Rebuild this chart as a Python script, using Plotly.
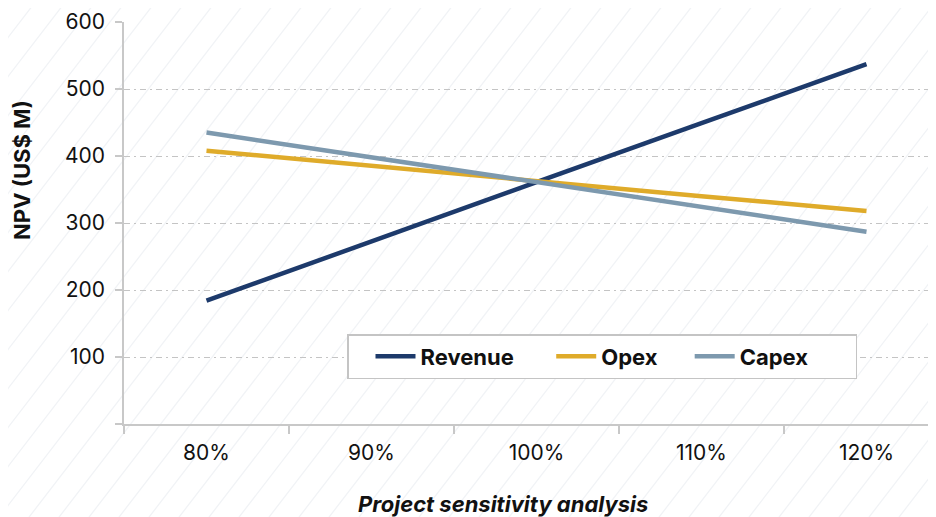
import plotly.graph_objects as go

categories = ["80%", "90%", "100%", "110%", "120%"]
revenue = [184, 273, 361, 449, 537]
opex = [408, 385, 362, 340, 318]
capex = [435, 398, 361, 324, 287]
y_ticks = [0, 100, 200, 300, 400, 500, 600]
y_tick_labels = ["", "100", "200", "300", "400", "500", "600"]

# page body margin offsets the figure by 8px; compensate
OFF = 8
W, H = 936, 517
ML, MR, MT, MB = 124 - OFF, 0, 22 - OFF, 93 + OFF
PW, PH = W - ML - MR, H - MT - MB
FONT = "Inter"

def px_to_paper(px, py):
    # px, py in screenshot pixels
    fx, fy = px - OFF, py - OFF
    return (fx - ML) / PW, (H - MB - fy) / PH

fig = go.Figure()
series = [("Revenue", revenue, "#1d3a6b"), ("Opex", opex, "#dfab2a"), ("Capex", capex, "#7d99ae")]
pads = ["\u00a0" * 2, "\u00a0" * 1, "\u00a0" * 8]
for (name, vals, col), pad in zip(series, pads):
    fig.add_trace(go.Scatter(x=categories, y=vals, mode="lines", name=name + pad,
                             line=dict(color=col, width=4.5)))

# decorative background hatch
shapes = []
slope = 1.3
c = -int(H / slope) - 30
while c < W + 30:
    x0, y0 = px_to_paper(c, H + OFF)
    x1, y1 = px_to_paper(c + (H + OFF) / slope, 0)
    shapes.append(dict(type="line", xref="paper", yref="paper", x0=x0, y0=y0, x1=x1, y1=y1,
                       line=dict(color="#f1f3f6", width=1.3), layer="below"))
    c += 30

lx, ly = px_to_paper(347, 334)
fig.update_layout(
    width=W, height=H,
    margin=dict(l=ML, r=MR, t=MT, b=MB),
    paper_bgcolor="white", plot_bgcolor="rgba(0,0,0,0)",
    font=dict(family=FONT, color="#111111"),
    shapes=shapes,
    showlegend=True,
    legend=dict(orientation="h", x=lx, y=ly,
                xanchor="left", yanchor="top",
                bgcolor="white", bordercolor="#c4c4c4", borderwidth=1.5,
                font=dict(family=FONT, size=22, color="#111111", weight="bold"),
                itemwidth=40, indentation=22),
    xaxis=dict(type="category", range=[-0.5, -0.5 + PW / 165.0],
               showline=True, linecolor="#c8c8c8", linewidth=1.5,
               ticks="outside", tickson="boundaries", ticklen=8, tickcolor="#c8c8c8", tickwidth=1.5,
               showgrid=False, tickfont=dict(family=FONT, size=21, color="#111111"), ticklabelstandoff=9),
    yaxis=dict(range=[0, 600], tickvals=y_ticks, ticktext=y_tick_labels,
               showline=True, linecolor="#c8c8c8", linewidth=1.5,
               ticks="outside", ticklen=7, tickcolor="#c8c8c8", tickwidth=1.5,
               showgrid=True, gridcolor="#c4c4c4", griddash="6px,4px,2px,4px", gridwidth=1,
               zeroline=False, tickfont=dict(family=FONT, size=21, color="#111111"), ticklabelstandoff=6),
)
a0x, a0y = px_to_paper(22, 170)
a1x, a1y = px_to_paper(503, 504)
fig.add_annotation(text="NPV (US$ M)", x=a0x, y=a0y, xref="paper", yref="paper", showarrow=False,
                   textangle=-90, xanchor="center", yanchor="middle",
                   font=dict(family=FONT, size=22, weight="bold", color="#111111"))
fig.add_annotation(text="<i>Project sensitivity analysis</i>", x=a1x, y=a1y, xref="paper", yref="paper",
                   showarrow=False, xanchor="center", yanchor="middle",
                   font=dict(family=FONT, size=22, weight="bold", color="#111111"))

fig.write_html("out.html")
